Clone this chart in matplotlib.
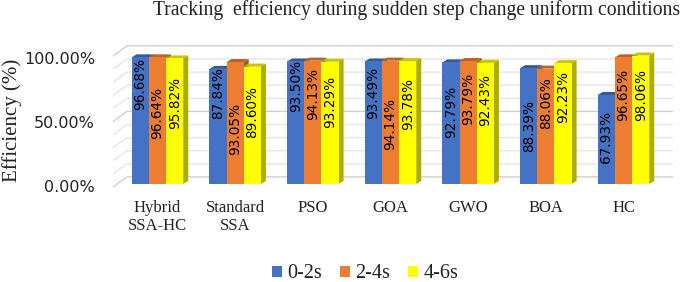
import matplotlib
matplotlib.use("Agg")
import matplotlib.pyplot as plt
from matplotlib.patches import Polygon, Rectangle
from matplotlib.colors import to_rgb

# ---------------- data ----------------
categories = ["Hybrid\nSSA-HC", "Standard\nSSA", "PSO", "GOA", "GWO", "BOA", "HC"]
series_names = ["0-2s", "2-4s", "4-6s"]
eff_0_2 = [96.68, 87.84, 93.50, 93.49, 92.79, 88.39, 67.93]
eff_2_4 = [96.64, 93.05, 94.13, 94.14, 93.79, 88.06, 96.65]
eff_4_6 = [95.82, 89.60, 93.29, 93.78, 92.43, 92.23, 98.06]
y_ticks = [0, 50, 100]
y_tick_labels = ["0.00%", "50.00%", "100.00%"]
title = "Tracking  efficiency during sudden step change uniform conditions"
ylabel = "Efficiency (%)"

# ---------------- style ----------------
series = [eff_0_2, eff_2_4, eff_4_6]
colors = ["#4472C4", "#ED7D31", "#FFFF00"]
# relative position of the value label along each bar (style only)
label_frac = [
    [0.79, 0.79, 0.80, 0.74, 0.59, 0.50, 0.53],
    [0.56, 0.45, 0.73, 0.49, 0.69, 0.70, 0.70],
    [0.645, 0.61, 0.67, 0.65, 0.69, 0.72, 0.69],
]
serif = ["Liberation Serif", "DejaVu Serif"]
sans = ["DejaVu Sans"]

W, H = 685, 282
fig = plt.figure(figsize=(W / 100, H / 100), dpi=100)
ax_l, ax_r, ax_t, ax_b = 113, 673, 40, 190
ax = fig.add_axes([ax_l / W, 1 - ax_b / H, (ax_r - ax_l) / W, (ax_b - ax_t) / H])
x0, x1 = -0.573, 6.637
ax.set_xlim(x0, x1)
ax.set_ylim(-4.6, 109.9)
for s in ax.spines.values():
    s.set_visible(False)

# 3D floor/wall geometry (in data units)
fdx, fdy_front, fdy_back = 0.18, -2.3, 5.4
for v in range(0, 101, 10):
    major = v % 50 == 0
    c = "#CFCFCF" if major else "#E6E6E6"
    ax.plot([x0, x0 + fdx, x1], [v + fdy_front, v + fdy_back, v + fdy_back],
            color=c, lw=1.0, zorder=1, solid_joinstyle="miter")


def darker(col, f):
    r, g, b = to_rgb(col)
    return (r * f, g * f, b * f)


bw = 0.221
bdx, bdy = 0.064, 2.3
for gi in range(len(categories)):
    for si, vals in enumerate(series):
        h = vals[gi]
        x = gi + (si - 1.5) * bw
        col = colors[si]
        z = 2 + si
        ax.add_patch(Polygon([(x + bw, 0), (x + bw + bdx, bdy), (x + bw + bdx, h + bdy), (x + bw, h)],
                             closed=True, facecolor=darker(col, 0.68), edgecolor="none", zorder=z))
        ax.add_patch(Polygon([(x, h), (x + bw, h), (x + bw + bdx, h + bdy), (x + bdx, h + bdy)],
                             closed=True, facecolor=darker(col, 0.78), edgecolor="none", zorder=z))
        ax.add_patch(Rectangle((x, 0), bw, h, facecolor=col, edgecolor="none", zorder=z))
        ax.text(x + bw / 2, h * label_frac[si][gi], f"{h:.2f}%", rotation=90,
                ha="center", va="center", fontsize=9.8, family=sans, color="black", zorder=10)

# y tick labels
ax.set_yticks([v * 0.98 - 1.5 for v in y_ticks])
ax.set_yticklabels(y_tick_labels, family=sans, fontsize=11.5, color="#222222")
ax.tick_params(axis="y", length=0, pad=13)

# x tick labels
ax.set_xticks(range(len(categories)))
ax.set_xticklabels(categories, family=serif, fontsize=12, color="#222222", linespacing=1.2)
ax.tick_params(axis="x", length=0, pad=7)

# title & y label
fig.text(417 / W, 1 - 10 / H, title, ha="center", va="center", family=serif, fontsize=14.1, color="#222222")
fig.text(12 / W, 1 - 120 / H, ylabel, ha="center", va="center", rotation=90, family=serif,
         fontsize=15, color="#222222")

handles = [Rectangle((0, 0), 1, 1, facecolor=c, edgecolor="none") for c in colors]
fig.legend(handles, series_names, loc="center", bbox_to_anchor=(365 / W, 1 - 274 / H), ncol=3,
           frameon=False, prop={"family": serif, "size": 14.5}, handlelength=0.5, handleheight=0.5,
           handletextpad=0.25, columnspacing=0.9, borderpad=0, labelcolor="#222222")

fig.savefig("out.png", dpi=100)
